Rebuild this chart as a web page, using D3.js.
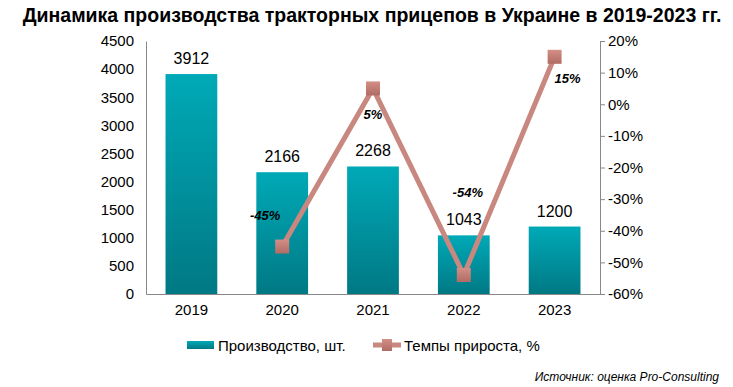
<!DOCTYPE html>
<meta charset="utf-8">
<script src="https://d3js.org/d3.v7.min.js"></script>
<style>
body { margin: 0; background: #fff; font-family: "Liberation Sans", Arial, sans-serif; }
</style>
<body>
<script>
var years = ["2019", "2020", "2021", "2022", "2023"],
	production = [3912, 2166, 2268, 1043, 1200],
	growth = [null, -45, 5, -54, 15],
	growthLabels = ["", "-45%", "5%", "-54%", "15%"],
	leftTicks = [0, 500, 1000, 1500, 2000, 2500, 3000, 3500, 4000, 4500],
	rightTicks = [-60, -50, -40, -30, -20, -10, 0, 10, 20];

var w = 733, h = 387,
	plotLeft = 146, plotRight = 600, plotTop = 41, plotBottom = 294;

var svg = d3.select("body").append("svg")
	.attr("width", w)
	.attr("height", h);

var defs = svg.append("defs");
var grad = defs.append("linearGradient").attr("id", "barGrad")
	.attr("x1", 0).attr("y1", 0).attr("x2", 0).attr("y2", 1);
grad.append("stop").attr("offset", "0%").attr("stop-color", "#00a9b7");
grad.append("stop").attr("offset", "100%").attr("stop-color", "#007984");
var mgrad = defs.append("linearGradient").attr("id", "markGrad")
	.attr("x1", 0).attr("y1", 0).attr("x2", 0).attr("y2", 1);
mgrad.append("stop").attr("offset", "0%").attr("stop-color", "#d38f86");
mgrad.append("stop").attr("offset", "100%").attr("stop-color", "#b06c64");

svg.append("text")
	.attr("x", 372).attr("y", 22)
	.attr("text-anchor", "middle")
	.style("font-size", "19.5px").style("font-weight", "bold")
	.text("Динамика производства тракторных прицепов в Украине в 2019-2023 гг.");

var x = d3.scaleBand().domain(years).range([plotLeft, plotRight]).paddingInner(0.43).paddingOuter(0.215);
var y = d3.scaleLinear().domain([0, 4500]).range([plotBottom, plotTop]);
var y2 = d3.scaleLinear().domain([-60, 20]).range([plotBottom, plotTop]);

// bars
svg.selectAll(".bar")
	.data(production)
	.enter()
	.append("rect")
	.attr("class", "bar")
	.attr("x", function(d, i) { return x(years[i]); })
	.attr("y", function(d) { return y(d); })
	.attr("width", x.bandwidth())
	.attr("height", function(d) { return plotBottom - y(d); })
	.style("fill", "url(#barGrad)");

svg.selectAll(".barLabel")
	.data(production)
	.enter()
	.append("text")
	.attr("x", function(d, i) { return x(years[i]) + x.bandwidth() / 2; })
	.attr("y", function(d) { return y(d) - 10; })
	.attr("text-anchor", "middle")
	.style("font-size", "16px")
	.text(function(d) { return d; });

// axes
var axisColor = "#888";
var gl = svg.append("g").attr("transform", "translate(" + plotLeft + ",0)")
	.call(d3.axisLeft(y).tickValues(leftTicks).tickSize(0).tickPadding(12).tickFormat(d3.format("d")));
var gr = svg.append("g").attr("transform", "translate(" + plotRight + ",0)")
	.call(d3.axisRight(y2).tickValues(rightTicks).tickSize(5).tickPadding(3)
		.tickFormat(function(d) { return d + "%"; }));
var gb = svg.append("g").attr("transform", "translate(0," + plotBottom + ")")
	.call(d3.axisBottom(x).tickSize(0).tickPadding(10));
[gl, gr, gb].forEach(function(g) {
	g.select(".domain").attr("stroke", axisColor);
	g.selectAll(".tick line").attr("stroke", axisColor);
	g.selectAll("text").style("font-size", "15px").style("font-family", "'Liberation Sans', Arial, sans-serif").attr("fill", "#000");
});

// line
var pts = growth.map(function(d, i) { return { v: d, i: i }; }).filter(function(d) { return d.v !== null; });
var line = d3.line()
	.x(function(d) { return x(years[d.i]) + x.bandwidth() / 2; })
	.y(function(d) { return y2(d.v); });
svg.append("path")
	.datum(pts)
	.attr("d", line)
	.attr("fill", "none")
	.attr("stroke", "#c8877f")
	.attr("stroke-width", 5)
	.attr("stroke-linejoin", "miter");

svg.selectAll(".marker")
	.data(pts)
	.enter()
	.append("rect")
	.attr("x", function(d) { return x(years[d.i]) + x.bandwidth() / 2 - 7; })
	.attr("y", function(d) { return y2(d.v) - 7; })
	.attr("width", 14).attr("height", 14)
	.style("fill", "url(#markGrad)");

var labelOffsets = [null, [-17, -27], [0, 31], [4, -78], [13, 26]];
svg.selectAll(".pctLabel")
	.data(pts)
	.enter()
	.append("text")
	.attr("x", function(d) { return x(years[d.i]) + x.bandwidth() / 2 + labelOffsets[d.i][0]; })
	.attr("y", function(d) { return y2(d.v) + labelOffsets[d.i][1]; })
	.attr("text-anchor", "middle")
	.style("font-size", "13px").style("font-weight", "bold").style("font-style", "italic")
	.text(function(d) { return growthLabels[d.i]; });

// legend
svg.append("rect").attr("x", 187).attr("y", 341).attr("width", 27).attr("height", 8).style("fill", "url(#barGrad)");
svg.append("text").attr("x", 218).attr("y", 351).style("font-size", "15px").text("Производство, шт.");
svg.append("line").attr("x1", 373).attr("x2", 401).attr("y1", 345).attr("y2", 345)
	.attr("stroke", "#c8877f").attr("stroke-width", 5);
svg.append("rect").attr("x", 382).attr("y", 339).attr("width", 10).attr("height", 12).style("fill", "url(#markGrad)");
svg.append("text").attr("x", 404).attr("y", 351).style("font-size", "15px").text("Темпы прироста, %");

svg.append("text").attr("x", 719).attr("y", 381)
	.attr("text-anchor", "end")
	.style("font-size", "12px").style("font-style", "italic")
	.text("Источник: оценка Pro-Consulting");
</script>
</body>
</html>
